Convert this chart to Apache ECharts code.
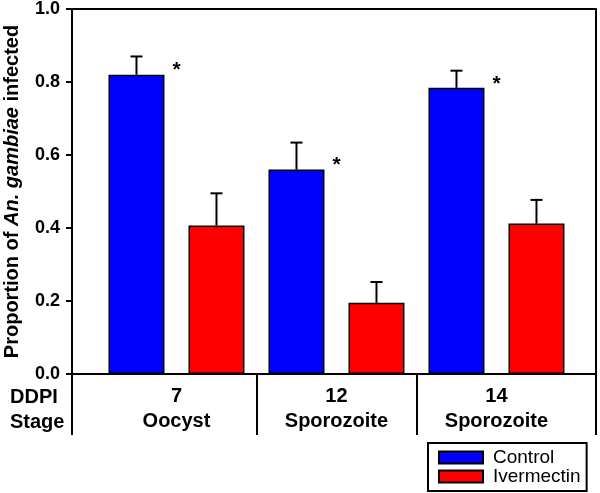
<!DOCTYPE html>
<html>
<head>
<meta charset="utf-8">
<script src="https://cdn.jsdelivr.net/npm/echarts@6/dist/echarts.min.js"></script>
<style>
  html, body { margin: 0; padding: 0; background: #fff; }
  #chart { width: 600px; height: 493px; }
</style>
</head>
<body>
<div id="chart"></div>
<script>
// 数据
const ddpi = ['7', '12', '14'];
const stages = ['Oocyst', 'Sporozoite', 'Sporozoite'];
const controlValues = [0.82, 0.56, 0.784];
const controlErrors = [0.05, 0.074, 0.047];
const ivermectinValues = [0.407, 0.195, 0.412];
const ivermectinErrors = [0.088, 0.057, 0.065];
const significant = [true, true, true];

// x 轴位置: 每组两根柱子
const xMin = -0.806;
const xMax = 5.744;
const controlData = controlValues.map((v, i) => [2 * i, v, controlErrors[i], significant[i] ? 1 : 0]);
const ivermectinData = ivermectinValues.map((v, i) => [2 * i + 1, v, ivermectinErrors[i], 0]);
const labelPos = ddpi.map((d, i) => 2 * i + 0.5);
const dividerPos = [xMin, 1.5, 3.5, xMax];

const font = '"Liberation Sans", Arial, sans-serif';

function errorBar(params, api) {
    const x = api.value(0), y = api.value(1), e = api.value(2);
    const base = api.coord([x, y]);
    const top = api.coord([x, y + e]);
    const children = [
        { type: 'line', shape: { x1: base[0], y1: base[1], x2: top[0], y2: top[1] }, style: { stroke: '#000', lineWidth: 2 } },
        { type: 'line', shape: { x1: top[0] - 6, y1: top[1], x2: top[0] + 6, y2: top[1] }, style: { stroke: '#000', lineWidth: 2 } }
    ];
    if (api.value(3)) {
        children.push({
            type: 'text',
            style: { text: '*', x: base[0] + 40, y: base[1] - 4, font: 'bold 21px ' + font, fill: '#000', align: 'center', verticalAlign: 'middle' }
        });
    }
    return { type: 'group', children: children };
}

const chart = echarts.init(document.getElementById('chart'));
const option = {
    backgroundColor: '#fff',
    animation: false,
    grid: { left: 72, top: 9, right: 4, bottom: 119, containLabel: false, outerBoundsMode: 'none' },
    legend: {
        data: ['Control', 'Ivermectin'],
        orient: 'vertical',
        left: 428,
        top: 443,
        padding: [5, 6, 5, 10],
        itemWidth: 44,
        itemHeight: 12,
        itemGap: 0,
        icon: 'rect',
        borderColor: '#000',
        borderWidth: 2,
        textStyle: { fontFamily: font, fontSize: 19, color: '#000', lineHeight: 19, padding: [0, 0, 0, 5] }
    },
    xAxis: [{
        type: 'value',
        min: xMin,
        max: xMax,
        splitLine: { show: false },
        axisLine: { show: true, onZero: false, lineStyle: { color: '#000', width: 2 } },
        axisTick: { show: true, customValues: dividerPos, length: 61, lineStyle: { color: '#000', width: 2 } },
        axisLabel: {
            customValues: labelPos,
            margin: 10,
            formatter: function (v) {
                const i = labelPos.findIndex(p => Math.abs(p - v) < 1e-6);
                if (i < 0) return '';
                return '{a|' + ddpi[i] + '}\n{a|' + stages[i] + '}';
            },
            rich: { a: { fontFamily: font, fontSize: 20, fontWeight: 'bold', color: '#000', lineHeight: 25 } }
        }
    }, {
        type: 'value',
        position: 'top',
        min: xMin,
        max: xMax,
        splitLine: { show: false },
        axisLine: { show: true, onZero: false, lineStyle: { color: '#000', width: 2 } },
        axisTick: { show: false },
        axisLabel: { show: false }
    }],
    yAxis: [{
        type: 'value',
        min: 0,
        max: 1,
        interval: 0.2,
        name: 'Proportion of {i|An. gambiae} infected',
        nameLocation: 'middle',
        nameGap: 50,
        nameTextStyle: {
            fontFamily: font, fontSize: 20, fontWeight: 'bold', color: '#000',
            rich: { i: { fontFamily: font, fontSize: 20, fontWeight: 'bold', fontStyle: 'italic', color: '#000' } }
        },
        splitLine: { show: false },
        axisLine: { show: true, onZero: false, lineStyle: { color: '#000', width: 2 } },
        axisTick: { show: true, length: 6, lineStyle: { color: '#000', width: 2 } },
        axisLabel: {
            margin: 12,
            fontFamily: font, fontSize: 18, fontWeight: 'bold', color: '#000',
            formatter: v => v.toFixed(1)
        }
    }, {
        type: 'value',
        position: 'right',
        min: 0,
        max: 1,
        splitLine: { show: false },
        axisLine: { show: true, onZero: false, lineStyle: { color: '#000', width: 2 } },
        axisTick: { show: false },
        axisLabel: { show: false }
    }],
    graphic: [
        { type: 'text', left: 10, top: 387, style: { text: 'DDPI', font: 'bold 20px ' + font, fill: '#000' } },
        { type: 'text', left: 10, top: 412, style: { text: 'Stage', font: 'bold 20px ' + font, fill: '#000' } }
    ],
    series: [{
        name: 'Control',
        type: 'bar',
        barWidth: 56,
        barGap: '-100%',
        data: controlData,
        itemStyle: { color: '#0000ff', borderColor: '#000', borderWidth: 1.5 }
    }, {
        name: 'Ivermectin',
        type: 'bar',
        barWidth: 56,
        barGap: '-100%',
        data: ivermectinData,
        itemStyle: { color: '#ff0000', borderColor: '#000', borderWidth: 1.5 }
    }, {
        name: 'ControlErr',
        type: 'custom',
        renderItem: errorBar,
        data: controlData,
        z: 3
    }, {
        name: 'IvermectinErr',
        type: 'custom',
        renderItem: errorBar,
        data: ivermectinData,
        z: 3
    }]
};
chart.setOption(option);
</script>
</body>
</html>
